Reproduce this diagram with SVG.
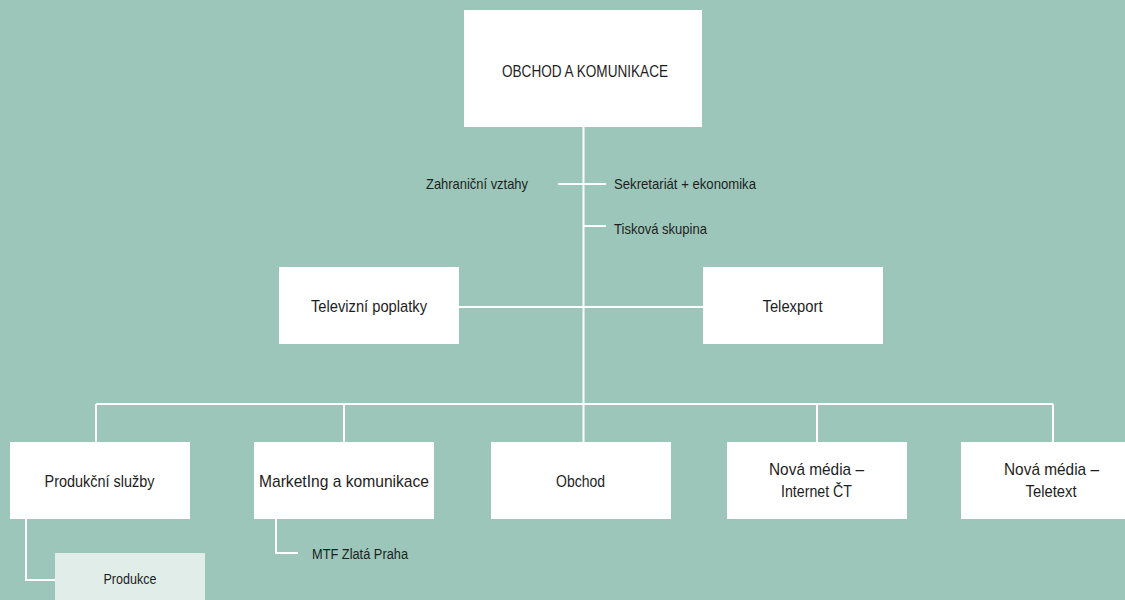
<svg xmlns="http://www.w3.org/2000/svg" width="1125" height="600" viewBox="0 0 1125 600">
<style>
.bg{fill:#9bc6b9}
.box{fill:#ffffff}
.sub{fill:#e0ede8}
.ln{stroke:#ffffff;stroke-width:2;fill:none}
text{font-family:"Liberation Sans Narrow","Liberation Sans",Arial,sans-serif;fill:#1e1e1e}
.t{font-size:17px;text-anchor:middle}
.s{font-size:15px}
.m{font-size:14px}
</style>
<rect class="bg" x="0" y="0" width="1125" height="600"/>
<g id="connectors">
<path class="ln" d="M583.5 127 V404"/>
<path class="ln" d="M558 184 H606"/>
<path class="ln" d="M583.5 226 H606"/>
<path class="ln" d="M459 307 H703"/>
<path class="ln" d="M96 404 H1053"/>
<path class="ln" d="M96 404 V442 M344 404 V442 M583.5 404 V442 M817 404 V442 M1053 404 V442"/>
<path class="ln" d="M26 519 V580 H55"/>
<path class="ln" d="M276 519 V553 H298"/>
</g>
<g id="n-obchod-komunikace">
<rect class="box" x="464" y="10" width="238" height="117"/>
<text class="t" x="585" y="77" textLength="166" lengthAdjust="spacingAndGlyphs">OBCHOD A KOMUNIKACE</text>
</g>
<g id="l-zahranicni">
<text class="s" x="426" y="189" textLength="102" lengthAdjust="spacingAndGlyphs">Zahraniční vztahy</text>
</g>
<g id="l-sekretariat">
<text class="s" x="614" y="189" textLength="142" lengthAdjust="spacingAndGlyphs">Sekretariát + ekonomika</text>
</g>
<g id="l-tiskova">
<text class="s" x="614" y="234" textLength="93" lengthAdjust="spacingAndGlyphs">Tisková skupina</text>
</g>
<g id="n-televizni">
<rect class="box" x="279" y="267" width="180" height="77"/>
<text class="t" x="369" y="312" textLength="116" lengthAdjust="spacingAndGlyphs">Televizní poplatky</text>
</g>
<g id="n-telexport">
<rect class="box" x="703" y="267" width="180" height="77"/>
<text class="t" x="792.5" y="312" textLength="60" lengthAdjust="spacingAndGlyphs">Telexport</text>
</g>
<g id="n-produkcni">
<rect class="box" x="10" y="442" width="180" height="77"/>
<text class="t" x="99.5" y="487" textLength="110" lengthAdjust="spacingAndGlyphs">Produkční služby</text>
</g>
<g id="n-produkce">
<rect class="sub" x="55" y="553" width="150" height="50"/>
<text class="m" x="130" y="584" text-anchor="middle" textLength="53" lengthAdjust="spacingAndGlyphs">Produkce</text>
</g>
<g id="n-marketing">
<rect class="box" x="254" y="442" width="180" height="77"/>
<text class="t" x="344" y="487" textLength="170" lengthAdjust="spacingAndGlyphs">MarketIng  a  komunikace</text>
</g>
<g id="l-mtf">
<text class="m" x="312" y="559" textLength="96" lengthAdjust="spacingAndGlyphs">MTF Zlatá Praha</text>
</g>
<g id="n-obchod">
<rect class="box" x="491" y="442" width="180" height="77"/>
<text class="t" x="580.5" y="487" textLength="49" lengthAdjust="spacingAndGlyphs">Obchod</text>
</g>
<g id="n-internet">
<rect class="box" x="727" y="442" width="180" height="77"/>
<text class="t" x="816.5" y="474.5" textLength="95" lengthAdjust="spacingAndGlyphs">Nová média  –</text>
<text class="t" x="816.5" y="497" textLength="71" lengthAdjust="spacingAndGlyphs">Internet ČT</text>
</g>
<g id="n-teletext">
<rect class="box" x="961" y="442" width="180" height="77"/>
<text class="t" x="1051.5" y="474.5" textLength="95" lengthAdjust="spacingAndGlyphs">Nová média  –</text>
<text class="t" x="1051" y="497" textLength="51" lengthAdjust="spacingAndGlyphs">Teletext</text>
</g>
</svg>
